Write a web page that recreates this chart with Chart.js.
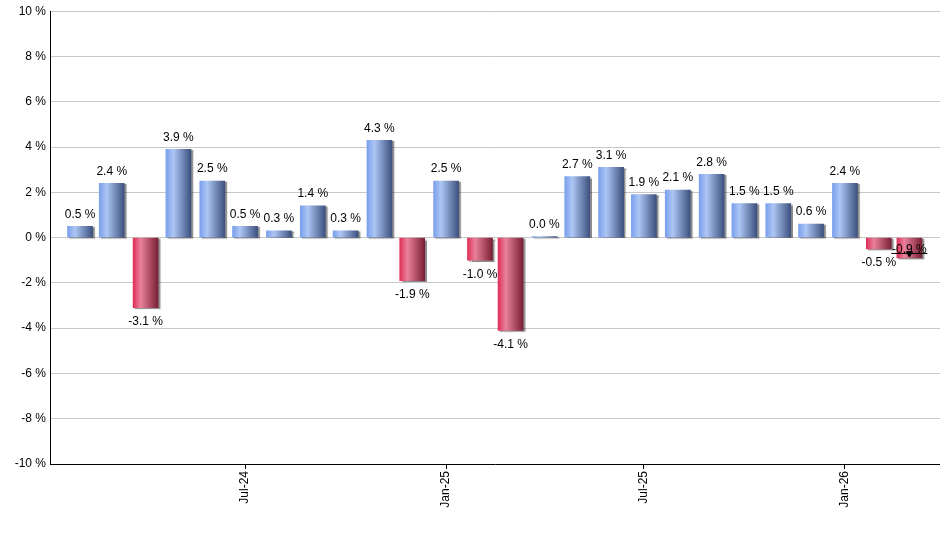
<!DOCTYPE html>
<html>
<head>
<meta charset="utf-8">
<script src="https://cdn.jsdelivr.net/npm/chart.js@4/dist/chart.umd.min.js"></script>
<style>
  html, body { margin: 0; padding: 0; background: #fff; }
  #wrap { width: 940px; height: 550px; }
</style>
</head>
<body>
<div id="wrap"><canvas id="chart"></canvas></div>
<script>
// Monthly returns, Feb-24 .. Mar-26
var MONTHS = ['2024-02','2024-03','2024-04','2024-05','2024-06','2024-07','2024-08','2024-09','2024-10','2024-11','2024-12',
              '2025-01','2025-02','2025-03','2025-04','2025-05','2025-06','2025-07','2025-08','2025-09','2025-10','2025-11','2025-12',
              '2026-01','2026-02','2026-03'];
var VALUES = [0.5, 2.4, -3.1, 3.9, 2.5, 0.5, 0.3, 1.4, 0.3, 4.3, -1.9,
              2.5, -1.0, -4.1, 0.04, 2.7, 3.1, 1.9, 2.1, 2.8, 1.5, 1.5, 0.6,
              2.4, -0.5, -0.9];
var TICK_MONTHS = ['2024-07', '2025-01', '2025-07', '2026-01'];
var TICK_LABELS = ['Jul-24', 'Jan-25', 'Jul-25', 'Jan-26'];
var Y_TICKS = [10, 8, 6, 4, 2, 0, -2, -4, -6, -8, -10];
// month-to-date marker on the last bar
var MARKER_MONTH = '2026-03';
var MARKER_VALUE = -0.7;

var FONT = '"Liberation Sans", Arial, sans-serif';

function dayOf(key) {
  var p = key.split('-');
  return Date.UTC(+p[0], +p[1] - 1, 1) / 864e5;
}

var BAR_W = 25;

function barFill(c) {
  var v = c.raw && c.raw.y;
  var xs = c.chart.scales && c.chart.scales.x;
  var fallback = (v != null && v < 0) ? '#c24a66' : '#7d9ad6';
  if (v == null || !xs) return fallback;
  var px = xs.getPixelForValue(c.raw.x);
  if (!isFinite(px)) return fallback;
  var g = c.chart.ctx.createLinearGradient(px - BAR_W / 2, 0, px + BAR_W / 2, 0);
  if (v >= 0) {
    g.addColorStop(0, '#7a9fec');
    g.addColorStop(0.3, '#adc6f4');
    g.addColorStop(1, '#3c5180');
  } else {
    g.addColorStop(0, '#de2f58');
    g.addColorStop(0.3, '#e9819a');
    g.addColorStop(1, '#7a2034');
  }
  return g;
}

var shadowPlugin = {
  id: 'barShadow',
  beforeDatasetDraw: function (chart, args) {
    if (args.index !== 0) return;
    var ctx = chart.ctx;
    ctx.save();
    ctx.shadowColor = 'rgba(0,0,0,0.45)';
    ctx.shadowOffsetX = 2;
    ctx.shadowOffsetY = 1;
    ctx.shadowBlur = 1;
  },
  afterDatasetDraw: function (chart, args) {
    if (args.index === 0) chart.ctx.restore();
  }
};

// value labels above/below each bar; a label that would collide with the
// previous one is lifted above it
var labelPlugin = {
  id: 'valueLabels',
  afterDatasetDraw: function (chart, args) {
    if (args.index !== 0) return;
    var ctx = chart.ctx;
    ctx.save();
    ctx.font = '12px ' + FONT;
    ctx.fillStyle = '#000';
    ctx.textAlign = 'center';
    ctx.textBaseline = 'middle';
    var prev = null;
    args.meta.data.forEach(function (el, i) {
      var v = VALUES[i];
      var txt = v.toFixed(1) + ' %';
      var w = ctx.measureText(txt).width;
      var y = v >= 0 ? el.y - 12 : el.y + 14;
      if (prev && Math.abs(el.x - prev.x) < (w + prev.w) / 2 && Math.abs(y - prev.y) < 13) {
        y = prev.y - 13;
      }
      ctx.fillText(txt, el.x, y);
      prev = { x: el.x, y: y, w: w };
    });
    ctx.restore();
  }
};

var markerX = dayOf(MARKER_MONTH);

var chart = new Chart(document.getElementById('chart').getContext('2d'), {
  type: 'bar',
  data: {
    datasets: [
      {
        label: 'Return',
        data: VALUES.map(function (v, i) { return { x: dayOf(MONTHS[i]), y: v }; }),
        backgroundColor: barFill,
        borderWidth: 0,
        barThickness: BAR_W,
        order: 2
      },
      {
        type: 'line',
        data: [{ x: markerX, y: MARKER_VALUE }],
        showLine: false,
        pointStyle: 'line',
        pointRadius: 18,
        borderColor: '#000',
        pointBorderWidth: 1,
        order: 1
      },
      {
        type: 'line',
        data: [{ x: markerX, y: MARKER_VALUE }],
        showLine: false,
        pointStyle: 'triangle',
        rotation: 180,
        pointRadius: 3.5,
        backgroundColor: '#000',
        borderColor: '#000',
        order: 0
      }
    ]
  },
  options: {
    responsive: true,
    maintainAspectRatio: false,
    animation: false,
    layout: { autoPadding: false, padding: { top: 1, right: 0, left: 0, bottom: 0 } },
    plugins: { legend: { display: false }, tooltip: { enabled: false } },
    scales: {
      x: {
        type: 'linear',
        offset: false,
        min: dayOf('2024-01-01') + 3.5,
        max: dayOf('2026-04-01') - 3,
        afterBuildTicks: function (s) {
          s.ticks = TICK_MONTHS.map(function (m) { return { value: dayOf(m) }; });
        },
        afterFit: function (s) { s.height = 86; s.paddingRight = 0; s.paddingLeft = 0; },
        grid: { offset: false, drawOnChartArea: false, drawTicks: true, tickLength: 5, color: '#000' },
        border: { display: true, color: '#000', width: 1 },
        ticks: {
          autoSkip: false,
          maxRotation: 90,
          minRotation: 90,
          padding: 2,
          color: '#000',
          font: { family: FONT, size: 12 },
          callback: function (v) {
            var i = TICK_MONTHS.map(dayOf).indexOf(v);
            return i >= 0 ? TICK_LABELS[i] : '';
          }
        }
      },
      y: {
        min: -10,
        max: 10,
        afterBuildTicks: function (s) {
          s.ticks = Y_TICKS.map(function (v) { return { value: v }; });
        },
        afterFit: function (s) { s.width = 50; },
        grid: { color: '#c8c8c8', drawTicks: false },
        border: { display: true, color: '#000', width: 1 },
        ticks: {
          padding: 4,
          color: '#000',
          font: { family: FONT, size: 12 },
          callback: function (v) { return v + ' %'; }
        }
      }
    }
  },
  plugins: [shadowPlugin, labelPlugin]
});
// re-resolve the gradients once the scales have their final pixel ranges
chart.update('none');
</script>
</body>
</html>
